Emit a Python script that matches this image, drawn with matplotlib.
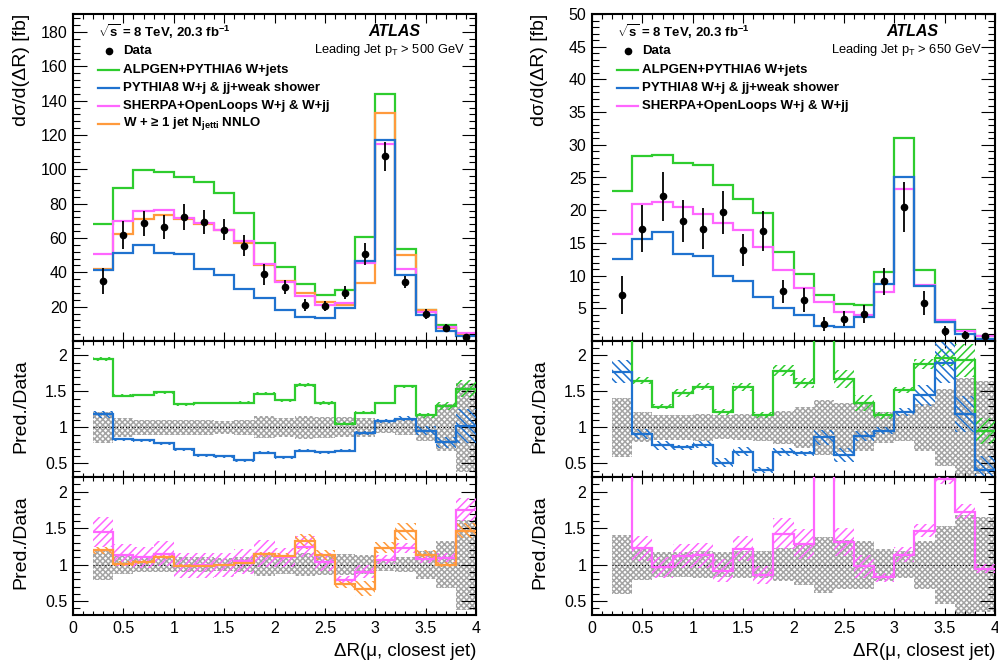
"""W+jets collinear emission: dsigma/dDeltaR(mu, closest jet) for two leading-jet pT cuts"""

import numpy as np
import matplotlib
matplotlib.use('Agg')
import matplotlib.pyplot as plt
from matplotlib.ticker import MultipleLocator, FuncFormatter

plt.rcParams['font.family'] = ['Liberation Sans', 'DejaVu Sans']
plt.rcParams['mathtext.fontset'] = 'custom'
plt.rcParams['mathtext.rm'] = 'Liberation Sans'
plt.rcParams['mathtext.it'] = 'Liberation Sans:italic'
plt.rcParams['mathtext.bf'] = 'Liberation Sans:bold'
plt.rcParams['hatch.linewidth'] = 1.1

# bins in DeltaR(mu, closest jet)
edges = np.round(np.arange(0.2, 4.01, 0.2), 1)
centers = 0.5 * (edges[:-1] + edges[1:])

# ---- leading jet pT > 500 GeV ----
data_500 = [34.9, 61.7, 68.5, 66.2, 72.4, 69.3, 64.8, 55.6, 38.9, 31.4,
            21.0, 20.2, 28.1, 50.5, 107.5, 34.3, 15.7, 7.4, 2.6]
err_500 = [7.4, 8.0, 7.3, 7.0, 7.5, 7.0, 6.0, 6.0, 6.0, 4.0,
           3.3, 3.0, 3.9, 6.5, 8.7, 3.7, 3.0, 2.4, 1.6]
alpgen_500 = [67.9, 89.0, 99.4, 98.3, 95.4, 92.8, 86.5, 74.7, 57.1, 43.2,
              33.3, 27.0, 29.5, 60.8, 143.7, 53.8, 18.3, 9.6, 4.0]
pythia_500 = [41.3, 51.5, 56.1, 51.5, 50.5, 42.2, 38.7, 30.2, 25.2, 18.3,
              14.2, 13.2, 19.0, 46.7, 117.0, 38.4, 15.0, 5.85, 2.65]
sherpa_500 = [50.5, 70.0, 75.5, 76.2, 71.5, 68.5, 64.5, 58.0, 44.7, 34.5,
              26.2, 21.0, 22.3, 45.5, 115.0, 42.2, 17.0, 8.1, 4.55]
nnlo_500 = [41.8, 62.5, 71.0, 73.5, 71.2, 68.3, 64.5, 57.1, 44.5, 35.2,
            27.7, 22.9, 20.8, 33.9, 132.7, 50.0, 17.8, 7.4, 3.8]
# relative MC (stat) uncertainties
alpgen_500_rel = [0.015, 0.012, 0.012, 0.012, 0.012, 0.012, 0.012, 0.015, 0.015, 0.015,
                  0.018, 0.02, 0.02, 0.015, 0.01, 0.015, 0.025, 0.04, 0.08]
pythia_500_rel = [0.04, 0.025, 0.025, 0.025, 0.03, 0.03, 0.03, 0.035, 0.035, 0.035,
                  0.035, 0.035, 0.035, 0.03, 0.02, 0.03, 0.06, 0.1, 0.23]
sherpa_500_rel = [0.14, 0.13, 0.13, 0.15, 0.17, 0.17, 0.17, 0.16, 0.16, 0.12,
                  0.12, 0.12, 0.07, 0.1, 0.055, 0.055, 0.055, 0.055, 0.09]
nnlo_500_rel = [0.04, 0.03, 0.03, 0.03, 0.02, 0.02, 0.02, 0.02, 0.03, 0.03,
                0.08, 0.06, 0.09, 0.15, 0.065, 0.08, 0.06, 0.03, 0.07]

# ---- leading jet pT > 650 GeV ----
data_650 = [7.1, 17.2, 22.1, 18.4, 17.2, 19.7, 13.9, 16.8, 7.6, 6.3,
            2.6, 3.4, 4.1, 9.1, 20.5, 5.8, 1.5, 0.88, 0.74]
err_650 = [2.9, 3.6, 3.8, 3.2, 3.2, 3.3, 2.5, 3.1, 1.75, 1.8,
           1.0, 1.15, 1.35, 2.0, 3.8, 1.9, 0.8, 0.6, 0.48]
alpgen_650 = [22.9, 28.3, 28.5, 27.2, 26.9, 23.9, 21.7, 19.6, 13.6, 10.2,
              7.1, 5.7, 5.5, 10.6, 31.1, 10.9, 2.95, 1.7, 0.7]
pythia_650 = [12.6, 15.6, 16.6, 13.3, 13.0, 10.0, 9.2, 6.8, 5.0, 4.05,
              2.25, 2.1, 3.6, 8.7, 25.0, 8.4, 2.85, 1.04, 0.3]
sherpa_650 = [16.3, 21.0, 21.3, 20.5, 19.4, 18.1, 16.9, 14.4, 10.8, 8.05,
              5.9, 4.45, 4.0, 7.5, 23.3, 8.5, 3.25, 1.52, 0.7]
alpgen_650_rel = [0.02, 0.03, 0.03, 0.035, 0.03, 0.04, 0.035, 0.035, 0.04, 0.045,
                  0.02, 0.075, 0.08, 0.045, 0.03, 0.04, 0.06, 0.12, 0.19]
pythia_650_rel = [0.09, 0.08, 0.08, 0.05, 0.065, 0.12, 0.1, 0.1, 0.09, 0.055,
                  0.12, 0.15, 0.08, 0.05, 0.045, 0.1, 0.15, 0.21, 0.5]
sherpa_650_rel = [0.02, 0.14, 0.15, 0.15, 0.15, 0.17, 0.14, 0.15, 0.15, 0.16,
                  0.02, 0.15, 0.16, 0.08, 0.09, 0.06, 0.03, 0.06, 0.07]

GREEN = '#2ecc2e'
BLUE = '#1f72cf'
MAGENTA = '#ff66ff'
ORANGE = '#ff9a3c'
GRAY = '#a4a4a4'

W, H = 998.0, 664.0


def rect(x0, x1, y0, y1):
    """pixel box -> figure fraction rect"""
    return [x0 / W, 1 - y1 / H, (x1 - x0) / W, (y1 - y0) / H]


def ticks(ax, ylen, xlen):
    ax.tick_params(which='both', direction='in', top=True, right=True,
                   width=0.8, labelsize=11.5, pad=4)
    ax.tick_params(axis='y', which='major', length=ylen)
    ax.tick_params(axis='y', which='minor', length=ylen * 0.5)
    ax.tick_params(axis='x', which='major', length=xlen)
    ax.tick_params(axis='x', which='minor', length=xlen * 0.55)
    ax.xaxis.set_major_locator(MultipleLocator(0.5))
    ax.xaxis.set_minor_locator(MultipleLocator(0.1))
    ax.xaxis.set_major_formatter(FuncFormatter(lambda v, p: '%g' % v))
    ax.set_xlim(0, 4)
    for s in ax.spines.values():
        s.set_linewidth(1.5)


def ratio_band(ax, data, err):
    data = np.asarray(data)
    rel = np.asarray(err) / data
    ax.bar(centers, 2 * rel, bottom=1 - rel, width=0.2, fill=False,
           hatch='xxxxxx', edgecolor=GRAY, lw=0, zorder=1)
    ax.plot([edges[0], edges[-1]], [1, 1], ls=':', color='k', lw=0.8, zorder=2)


def ratio_model(ax, pred, data, rel, color, hatch):
    r = np.asarray(pred) / np.asarray(data)
    half = r * np.asarray(rel)
    ax.bar(centers, 2 * half, bottom=r - half, width=0.2, fill=False,
           hatch=hatch, edgecolor=color, lw=0, zorder=3)
    ax.stairs(r, edges, baseline=None, color=color, lw=1.6, zorder=4)


def ratio_axes(ax, bottom=False):
    ticks(ax, 10.5, 5)
    ax.set_ylim(0.31, 2.2)
    ax.set_yticks([0.5, 1, 1.5, 2])
    ax.yaxis.set_major_formatter(FuncFormatter(lambda v, p: '%g' % v))
    ax.yaxis.set_minor_locator(MultipleLocator(0.1))
    if not bottom:
        ax.tick_params(axis='x', labelbottom=False)


def legend(ax, cut, entries, x_atlas, x_cut):
    ax.text(0.062, 0.945, r'$\sqrt{\mathbf{s}}$ = 8 TeV, 20.3 fb$^{\mathbf{-1}}$',
            transform=ax.transAxes, fontsize=9.5, fontweight='bold', va='center')
    ax.plot([0.089], [0.887], 'o', color='k', ms=4.5, transform=ax.transAxes, clip_on=False)
    ax.text(0.124, 0.887, 'Data', transform=ax.transAxes, fontsize=9.5,
            fontweight='bold', va='center')
    y = 0.829
    for label, color in entries:
        ax.plot([0.062, 0.115], [y, y], color=color, lw=1.6, transform=ax.transAxes)
        ax.text(0.124, y, label, transform=ax.transAxes, fontsize=9.5,
                fontweight='bold', va='center')
        y -= 0.055
    ax.text(x_atlas, 0.945, 'ATLAS', transform=ax.transAxes, fontsize=11.5,
            fontweight='bold', style='italic', ha='right', va='center')
    ax.text(x_cut, 0.89, 'Leading Jet p$_\\mathrm{T}$ > %d GeV' % cut,
            transform=ax.transAxes, fontsize=9.3, ha='right', va='center')


fig = plt.figure(figsize=(9.98, 6.64), dpi=100)

lab_alp = 'ALPGEN+PYTHIA6 W+jets'
lab_py8 = 'PYTHIA8 W+j & jj+weak shower'
lab_she = 'SHERPA+OpenLoops W+j & W+jj'
lab_nnlo = r'W + ≥ 1 jet N$_{\mathbf{jetti}}$ NNLO'

# ================= left: pT > 500 GeV =================
x0, x1 = 73, 476
ax = fig.add_axes(rect(x0, x1, 14, 341))
ax.stairs(alpgen_500, edges, baseline=None, color=GREEN, lw=1.6)
ax.stairs(nnlo_500, edges, baseline=None, color=ORANGE, lw=1.6)
ax.stairs(sherpa_500, edges, baseline=None, color=MAGENTA, lw=1.6)
ax.stairs(pythia_500, edges, baseline=None, color=BLUE, lw=1.6)
ax.errorbar(centers, data_500, yerr=err_500, fmt='o', color='k', ms=4.5,
            lw=1.3, capsize=0, zorder=5)
ticks(ax, 10, 6.5)
ax.set_ylim(0, 190.5)
ax.set_yticks(np.arange(20, 181, 20))
ax.yaxis.set_minor_locator(MultipleLocator(4))
ax.tick_params(axis='x', labelbottom=False)
legend(ax, 500, [(lab_alp, GREEN), (lab_py8, BLUE), (lab_she, MAGENTA), (lab_nnlo, ORANGE)],
       0.861, 0.973)

r1 = fig.add_axes(rect(x0, x1, 341, 477))
ratio_band(r1, data_500, err_500)
ratio_model(r1, alpgen_500, data_500, alpgen_500_rel, GREEN, '////')
ratio_model(r1, pythia_500, data_500, pythia_500_rel, BLUE, '\\\\\\\\')
ratio_axes(r1)

r2 = fig.add_axes(rect(x0, x1, 477, 615))
ratio_band(r2, data_500, err_500)
ratio_model(r2, sherpa_500, data_500, sherpa_500_rel, MAGENTA, '////')
ratio_model(r2, nnlo_500, data_500, nnlo_500_rel, ORANGE, '\\\\\\\\')
ratio_axes(r2, bottom=True)

fig.text(22 / W, 1 - 14 / H, 'dσ/d(ΔR) [fb]', rotation=90, ha='center', va='top', fontsize=14)
fig.text(21 / W, 1 - 406 / H, 'Pred./Data', rotation=90, ha='center', va='center', fontsize=14)
fig.text(21 / W, 1 - 542 / H, 'Pred./Data', rotation=90, ha='center', va='center', fontsize=14)
fig.text(x1 / W, 1 - 652 / H, 'ΔR(μ, closest jet)', ha='right', va='center', fontsize=13.5)

# ================= right: pT > 650 GeV =================
x0, x1 = 592, 995
ax = fig.add_axes(rect(x0, x1, 14, 341))
ax.stairs(alpgen_650, edges, baseline=None, color=GREEN, lw=1.6)
ax.stairs(sherpa_650, edges, baseline=None, color=MAGENTA, lw=1.6)
ax.stairs(pythia_650, edges, baseline=None, color=BLUE, lw=1.6)
ax.errorbar(centers, data_650, yerr=err_650, fmt='o', color='k', ms=4.5,
            lw=1.3, capsize=0, zorder=5)
ticks(ax, 10, 6.5)
ax.set_ylim(0, 50)
ax.set_yticks(np.arange(5, 51, 5))
ax.yaxis.set_minor_locator(MultipleLocator(1))
ax.tick_params(axis='x', labelbottom=False)
legend(ax, 650, [(lab_alp, GREEN), (lab_py8, BLUE), (lab_she, MAGENTA)], 0.859, 0.968)

r1 = fig.add_axes(rect(x0, x1, 341, 477))
ratio_band(r1, data_650, err_650)
ratio_model(r1, alpgen_650, data_650, alpgen_650_rel, GREEN, '////')
ratio_model(r1, pythia_650, data_650, pythia_650_rel, BLUE, '\\\\\\\\')
ratio_axes(r1)

r2 = fig.add_axes(rect(x0, x1, 477, 615))
ratio_band(r2, data_650, err_650)
ratio_model(r2, sherpa_650, data_650, sherpa_650_rel, MAGENTA, '////')
ratio_axes(r2, bottom=True)

fig.text(540 / W, 1 - 14 / H, 'dσ/d(ΔR) [fb]', rotation=90, ha='center', va='top', fontsize=14)
fig.text(540 / W, 1 - 406 / H, 'Pred./Data', rotation=90, ha='center', va='center', fontsize=14)
fig.text(540 / W, 1 - 542 / H, 'Pred./Data', rotation=90, ha='center', va='center', fontsize=14)
fig.text(x1 / W, 1 - 652 / H, 'ΔR(μ, closest jet)', ha='right', va='center', fontsize=13.5)

fig.savefig('out.png', dpi=100)
